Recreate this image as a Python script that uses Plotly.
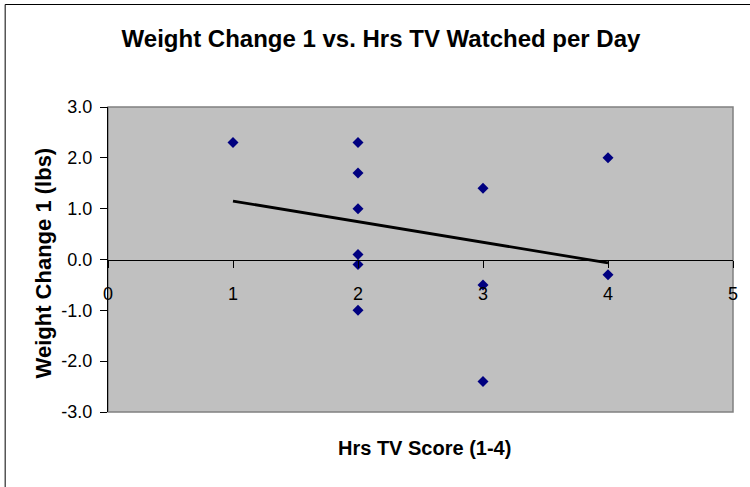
import numpy as np
import plotly.graph_objects as go

# Data
hrs_tv = [1, 2, 2, 2, 2, 2, 2, 3, 3, 3, 4, 4]
weight_change = [2.3, 2.3, 1.7, 1.0, 0.1, -0.1, -1.0, 1.4, -0.5, -2.4, 2.0, -0.3]
x_ticks = [0, 1, 2, 3, 4, 5]
y_ticks = [-3, -2, -1, 0, 1, 2, 3]
title_text = "Weight Change 1 vs. Hrs TV Watched per Day"
x_title = "Hrs TV Score (1-4)"
y_title = "Weight Change 1 (lbs)"

# Linear trendline (least squares)
slope, intercept = np.polyfit(hrs_tv, weight_change, 1)
trend_x = [min(hrs_tv), max(hrs_tv)]
trend_y = [slope * v + intercept for v in trend_x]

W, H = 750, 487
ml, mr, mt, mb = 108, 13, 107, 75
pw, ph = W - ml - mr, H - mt - mb
FONT = "Liberation Sans, Arial, sans-serif"

fig = go.Figure()
fig.add_trace(go.Scatter(x=hrs_tv, y=weight_change, mode="markers",
                         marker=dict(symbol="diamond", size=8.5, color="#000080"),
                         showlegend=False, hoverinfo="x+y"))
fig.add_trace(go.Scatter(x=trend_x, y=trend_y, mode="lines",
                         line=dict(color="black", width=2.8),
                         showlegend=False, hoverinfo="skip"))
# invisible carrier so the crossing x axis (x2) is rendered
fig.add_trace(go.Scatter(x=hrs_tv, y=weight_change, xaxis="x2", yaxis="y",
                         mode="markers", marker=dict(opacity=0),
                         showlegend=False, hoverinfo="skip"))

yr = [y_ticks[0], y_ticks[-1]]
zero_pos = (0 - yr[0]) / (yr[1] - yr[0])

fig.update_layout(
    width=W, height=H,
    margin=dict(l=ml, r=mr, t=mt, b=mb, pad=0),
    paper_bgcolor="white",
    plot_bgcolor="#C0C0C0",
    font=dict(family=FONT, color="black"),
    title=dict(text="<b>" + title_text + "</b>", x=381 / W, xanchor="center",
               xref="container", y=1 - 39 / H, yanchor="middle", yref="container",
               font=dict(size=24, family=FONT, color="black")),
    xaxis=dict(range=[x_ticks[0], x_ticks[-1]], showgrid=False, zeroline=False,
               showticklabels=False, ticks="", showline=False, fixedrange=True),
    xaxis2=dict(range=[x_ticks[0], x_ticks[-1]], overlaying="x", anchor="free",
                position=zero_pos, side="bottom", showgrid=False, zeroline=False,
                showline=True, linecolor="black", linewidth=1,
                ticks="outside", ticklen=7, tickwidth=1, tickcolor="black",
                tickvals=x_ticks, ticktext=[str(v) for v in x_ticks],
                tickfont=dict(size=18, family=FONT, color="black"),
                ticklabelstandoff=11, fixedrange=True),
    yaxis=dict(range=yr, showgrid=False, zeroline=False,
               showline=True, linecolor="black", linewidth=1,
               ticks="outside", ticklen=7, tickwidth=1, tickcolor="black",
               tickvals=y_ticks, ticktext=[f"{v:.1f}" for v in y_ticks],
               tickfont=dict(size=18, family=FONT, color="black"),
               ticklabelstandoff=4, fixedrange=True),
    shapes=[
        # plot area border (gray)
        dict(type="rect", xref="paper", yref="paper", x0=0, x1=1, y0=0, y1=1,
             line=dict(color="#808080", width=1.5), fillcolor="rgba(0,0,0,0)", layer="below"),
        # chart area border (black), cut off at right and bottom
        dict(type="rect", xref="paper", yref="paper",
             x0=(4.5 - ml) / pw, x1=(W + 10 - ml) / pw,
             y0=-(mb + 10) / ph, y1=1 + (mt - 4.5) / ph,
             line=dict(color="black", width=1), fillcolor="rgba(0,0,0,0)"),
    ],
    annotations=[
        dict(text="<b>" + x_title + "</b>", xref="paper", yref="paper",
             x=(427 - ml) / pw, y=-(448 - (H - mb)) / ph, xanchor="center", yanchor="middle",
             showarrow=False, font=dict(size=20, family=FONT, color="black")),
        dict(text="<b>" + y_title + "</b>", xref="paper", yref="paper",
             x=(43 - ml) / pw, y=(H - mb - 263) / ph, xanchor="center", yanchor="middle",
             textangle=-90, showarrow=False, font=dict(size=22, family=FONT, color="black")),
    ],
)

fig.write_html("out.html", config={"displayModeBar": False},
               post_script="document.body.style.margin='0';document.body.style.overflow='hidden';")
